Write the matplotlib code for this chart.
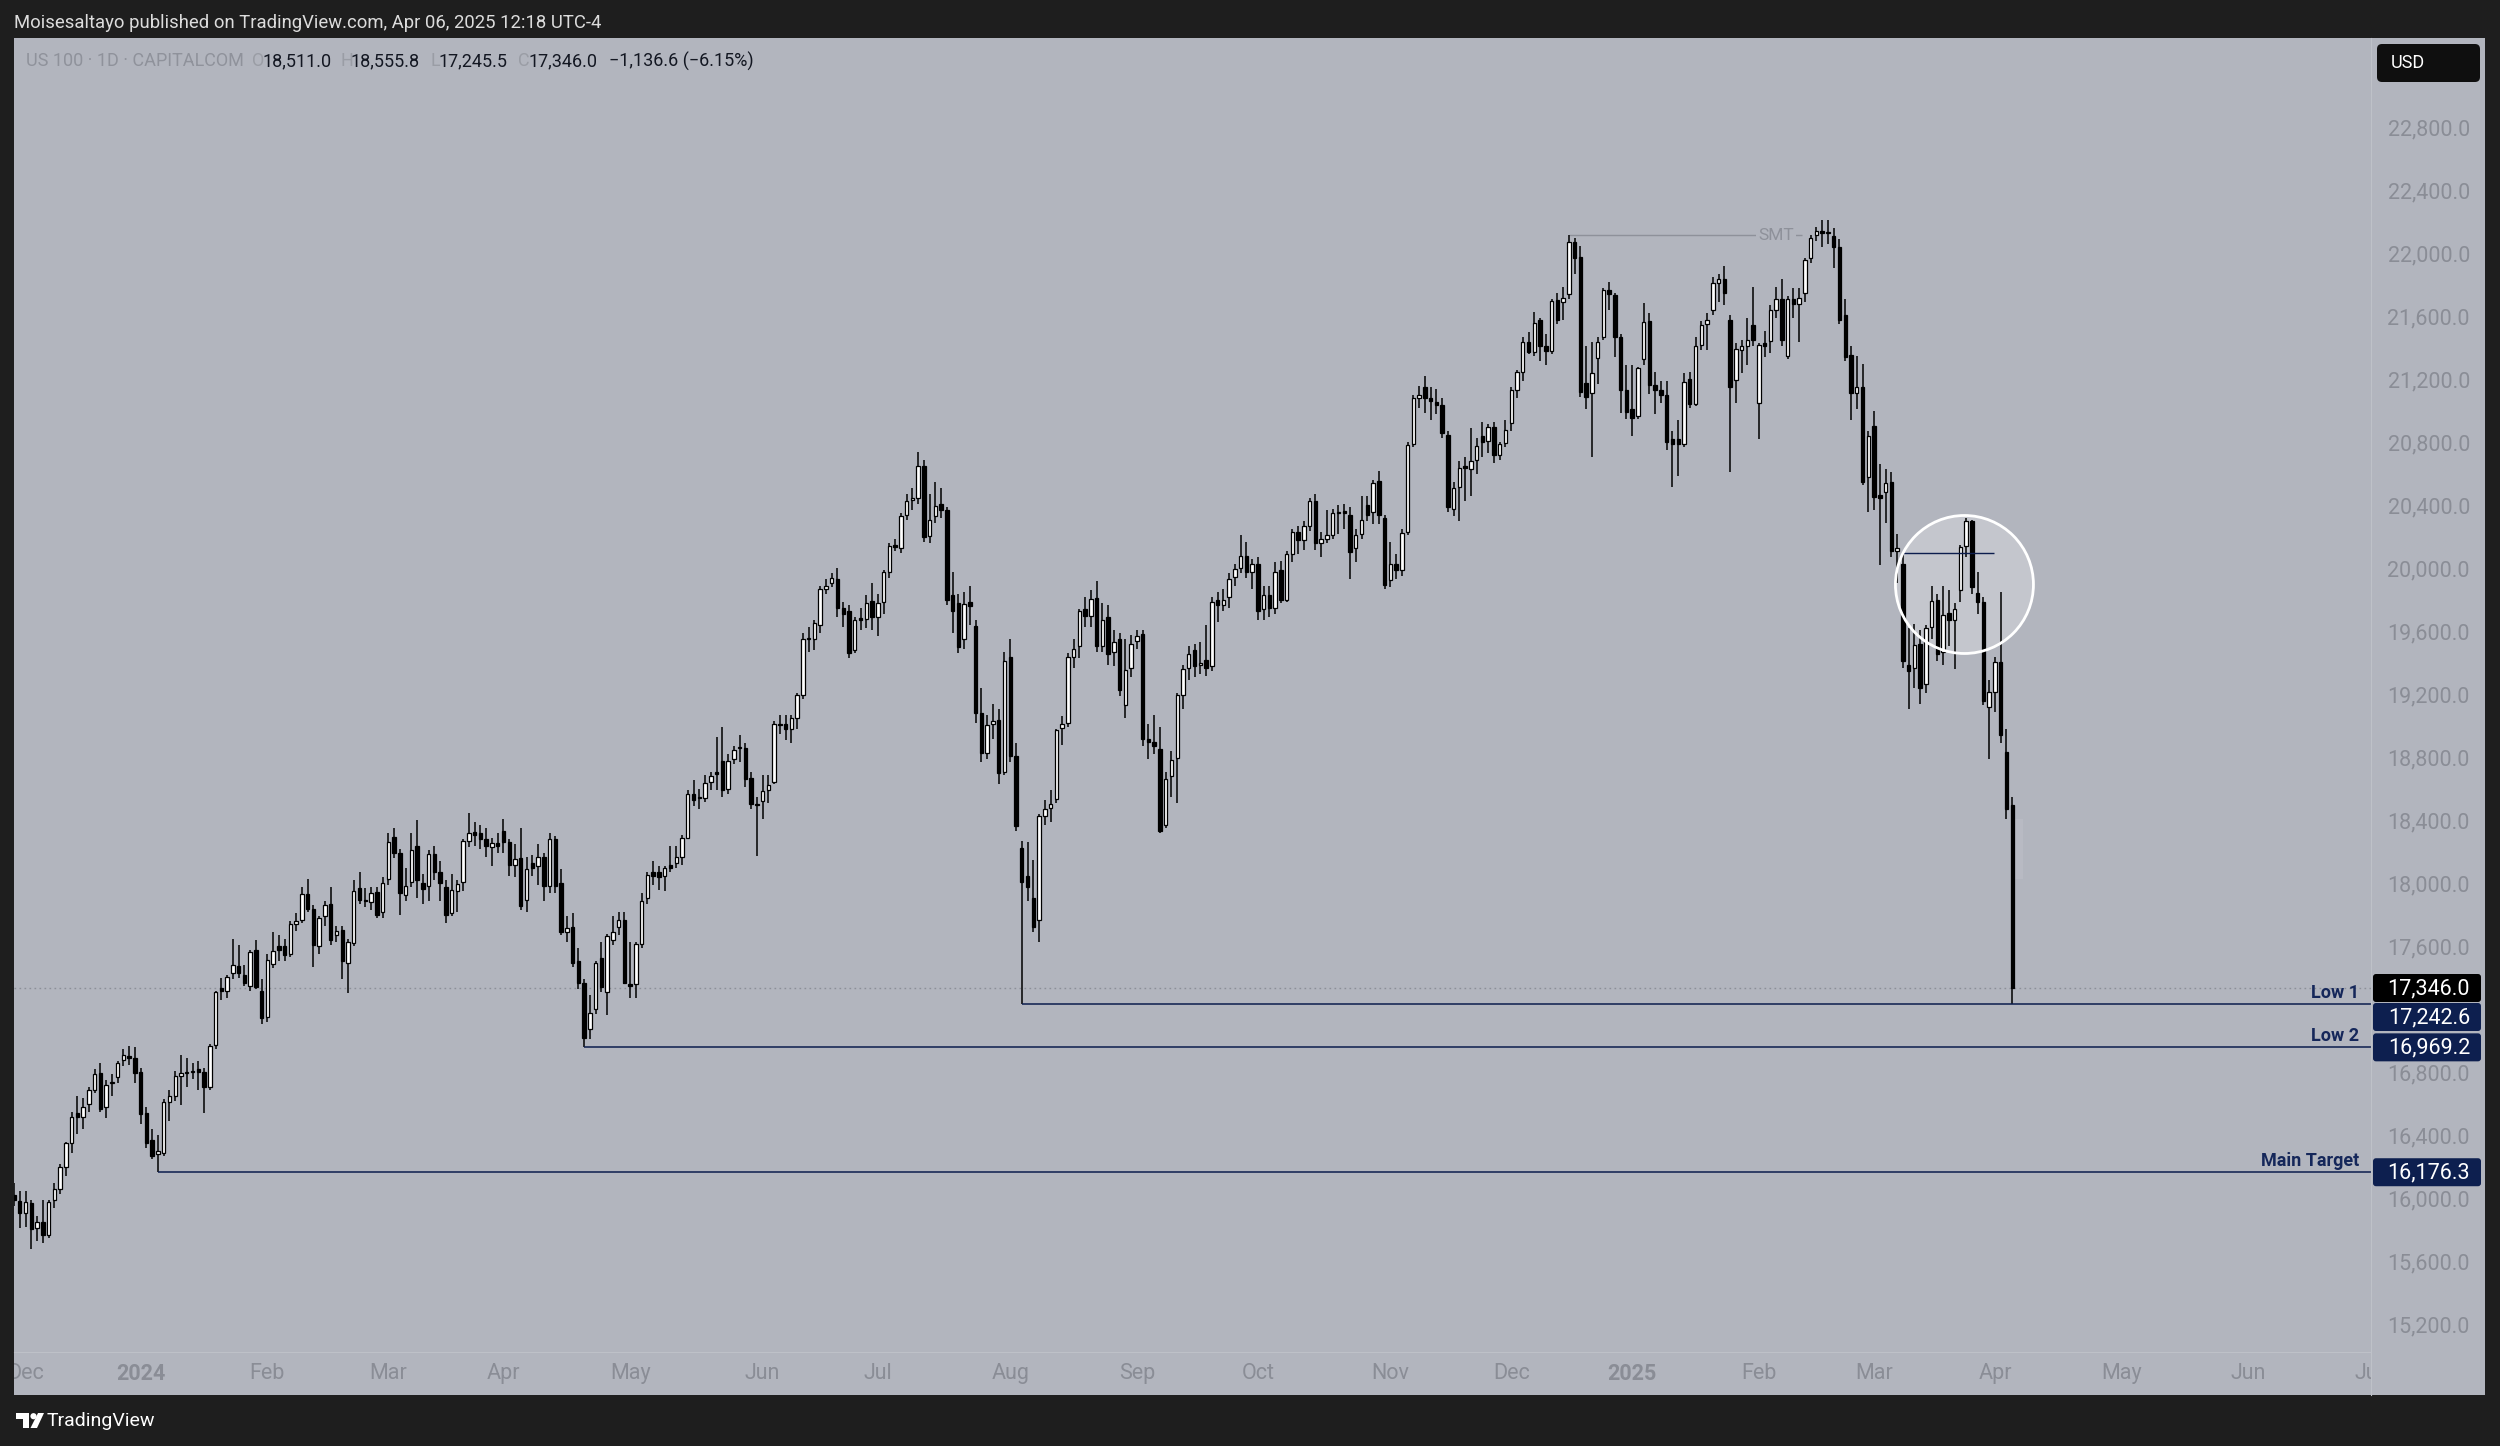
import numpy as np
import pandas as pd
import matplotlib
matplotlib.use("Agg")
import matplotlib.pyplot as plt
from matplotlib.patches import Rectangle, FancyBboxPatch, Ellipse, Polygon, Circle

plt.rcParams['font.family'] = ['Roboto', 'DejaVu Sans']

# ---------------- daily candles: (open, high, low, close) ----------------
nov_2023 = [(16030, 16110, 15960, 16000), (15995, 16060, 15820, 15920)]
dec_2023 = [(15920, 16060, 15830, 15985), (15980, 16000, 15690, 15815), (15820, 15900, 15740, 15860),
            (15860, 16000, 15730, 15780), (15775, 16000, 15760, 15985), (16000, 16110, 15950, 16070),
            (16070, 16230, 16040, 16210), (16210, 16370, 16150, 16360), (16360, 16560, 16300, 16530),
            (16550, 16660, 16420, 16530), (16530, 16650, 16450, 16590), (16610, 16720, 16560, 16700),
            (16700, 16830, 16680, 16800), (16805, 16870, 16560, 16575), (16590, 16760, 16520, 16730),
            (16740, 16800, 16660, 16750), (16780, 16880, 16740, 16870), (16890, 16960, 16850, 16920),
            (16915, 16980, 16860, 16900), (16900, 16970, 16740, 16805)]
jan_2024 = [(16815, 16840, 16480, 16545), (16550, 16590, 16330, 16360), (16380, 16450, 16260, 16280),
            (16290, 16410, 16176.3, 16310), (16300, 16640, 16280, 16620), (16620, 16700, 16500, 16660),
            (16660, 16820, 16630, 16790), (16790, 16920, 16600, 16805), (16805, 16900, 16720, 16815),
            (16815, 16870, 16770, 16820), (16830, 16880, 16700, 16815), (16815, 16840, 16550, 16720),
            (16720, 16990, 16700, 16975), (16985, 17330, 16960, 17320), (17345, 17410, 17270, 17325),
            (17325, 17430, 17280, 17415), (17440, 17660, 17400, 17490), (17485, 17620, 17410, 17440),
            (17430, 17490, 17360, 17380), (17360, 17590, 17330, 17575), (17590, 17650, 17340, 17355),
            (17330, 17400, 17118, 17155)]
feb_2024 = [(17165, 17560, 17130, 17525), (17500, 17700, 17470, 17580), (17615, 17680, 17520, 17590),
            (17610, 17660, 17520, 17555), (17565, 17770, 17540, 17750), (17755, 17820, 17710, 17770),
            (17780, 17990, 17760, 17940), (17940, 18040, 17830, 17845), (17845, 17870, 17480, 17620),
            (17610, 17800, 17560, 17790), (17800, 17900, 17740, 17870), (17880, 17990, 17620, 17650),
            (17680, 17740, 17640, 17710), (17715, 17740, 17400, 17515), (17505, 17660, 17313, 17635),
            (17630, 18030, 17610, 17960), (17980, 18085, 17880, 17905), (17905, 17980, 17860, 17900),
            (17895, 17990, 17840, 17950), (17955, 17990, 17790, 17810), (17830, 18050, 17790, 18015)]
mar_2024 = [(18035, 18330, 18000, 18270), (18305, 18360, 18170, 18200), (18205, 18230, 17810, 17950),
            (17935, 18110, 17900, 17995), (18020, 18330, 17990, 18220), (18250, 18410, 17920, 18030),
            (18010, 18070, 17880, 17975), (17995, 18220, 17900, 18195), (18195, 18250, 18030, 18085),
            (18080, 18150, 17900, 18010), (17990, 18030, 17757, 17810), (17820, 18070, 17800, 17970),
            (17965, 18030, 17830, 18005), (18020, 18290, 17960, 18280), (18280, 18455, 18240, 18330),
            (18335, 18400, 18250, 18320), (18330, 18380, 18230, 18290), (18290, 18360, 18180, 18245),
            (18240, 18300, 18120, 18265), (18265, 18330, 18200, 18245)]
apr_2024 = [(18345, 18420, 18200, 18275), (18270, 18290, 18060, 18125), (18125, 18260, 18050, 18165),
            (18170, 18360, 17840, 17865), (17905, 18180, 17830, 18100), (18140, 18190, 18060, 18105),
            (18120, 18260, 18000, 18175), (18175, 18200, 17900, 17995), (17995, 18330, 17950, 18290),
            (18290, 18310, 17950, 17995), (18010, 18100, 17680, 17700), (17700, 17800, 17640, 17725),
            (17735, 17820, 17480, 17505), (17515, 17600, 17340, 17375), (17375, 17400, 16969.2, 17030),
            (17085, 17300, 17020, 17190), (17210, 17520, 17180, 17505), (17535, 17640, 17320, 17355),
            (17320, 17690, 17175, 17675), (17650, 17800, 17620, 17700), (17735, 17830, 17680, 17780),
            (17780, 17830, 17370, 17375)]
may_2024 = [(17370, 17640, 17280, 17360), (17370, 17640, 17280, 17625), (17625, 17950, 17600, 17900),
            (17920, 18080, 17880, 18065), (18080, 18150, 18000, 18055), (18080, 18120, 17970, 18050),
            (18055, 18120, 17960, 18105), (18130, 18250, 18080, 18110), (18140, 18250, 18110, 18175),
            (18180, 18320, 18130, 18300), (18300, 18600, 18290, 18580), (18580, 18667, 18500, 18540),
            (18560, 18610, 18480, 18550), (18550, 18700, 18530, 18645), (18657, 18720, 18600, 18695),
            (18720, 18940, 18600, 18705), (18785, 19000, 18560, 18605), (18610, 18830, 18580, 18790),
            (18800, 18880, 18770, 18855), (18870, 18950, 18780, 18875), (18870, 18900, 18620, 18670),
            (18680, 18720, 18480, 18515), (18515, 18560, 18185, 18510)]
jun_2024 = [(18535, 18700, 18420, 18595), (18605, 18700, 18520, 18635), (18655, 19040, 18640, 19025),
            (19025, 19080, 18960, 19015), (19020, 19080, 18920, 18990), (18990, 19080, 18900, 19060),
            (19060, 19220, 18990, 19205), (19205, 19600, 19180, 19560), (19560, 19640, 19480, 19570),
            (19565, 19680, 19490, 19665), (19650, 19900, 19600, 19880), (19880, 19940, 19850, 19900),
            (19915, 19980, 19890, 19950), (19945, 20010, 19700, 19760), (19760, 19800, 19640, 19720),
            (19740, 19780, 19440, 19475), (19495, 19700, 19470, 19685), (19695, 19760, 19620, 19680),
            (19690, 19840, 19630, 19790), (19805, 19920, 19620, 19700)]
jul_2024 = [(19700, 19850, 19580, 19790), (19800, 20000, 19720, 19985), (19990, 20170, 19950, 20155),
            (20160, 20200, 20120, 20145), (20140, 20360, 20110, 20340), (20350, 20480, 20320, 20440),
            (20445, 20520, 20380, 20455), (20455, 20748, 20420, 20660), (20660, 20700, 20180, 20210),
            (20215, 20480, 20170, 20320), (20340, 20560, 20300, 20405), (20420, 20520, 20330, 20380),
            (20380, 20400, 19780, 19810), (19840, 19990, 19600, 19740), (19790, 19850, 19470, 19510),
            (19560, 19860, 19500, 19785), (19800, 19900, 19650, 19770), (19645, 19680, 19030, 19090),
            (19090, 19250, 18780, 18835), (18835, 19080, 18800, 19015), (19020, 19150, 18930, 19040),
            (19050, 19120, 18640, 18710), (18720, 19480, 18700, 19425)]
aug_2024 = [(19445, 19560, 18780, 18820), (18820, 18900, 18340, 18375), (18235, 18280, 17242.6, 18020),
            (18055, 18270, 17900, 17990), (17915, 18160, 17700, 17735), (17780, 18450, 17640, 18435),
            (18435, 18540, 18380, 18480), (18490, 18600, 18400, 18515), (18545, 18990, 18520, 18985),
            (18995, 19070, 18890, 19025), (19030, 19470, 19000, 19450), (19450, 19560, 19380, 19500),
            (19520, 19750, 19440, 19740), (19755, 19830, 19640, 19705), (19705, 19870, 19640, 19815),
            (19820, 19930, 19480, 19515), (19520, 19790, 19480, 19680), (19700, 19780, 19400, 19465),
            (19480, 19620, 19390, 19545), (19560, 19600, 19200, 19235), (19145, 19560, 19060, 19365),
            (19380, 19590, 19320, 19530)]
sep_2024 = [(19550, 19620, 19500, 19580), (19595, 19620, 18880, 18930), (18930, 19020, 18800, 18910),
            (18910, 19080, 18830, 18880), (18865, 19000, 18330, 18340), (18380, 18720, 18360, 18675),
            (18690, 18850, 18560, 18795), (18805, 19220, 18518, 19205), (19205, 19400, 19120, 19370),
            (19380, 19520, 19300, 19465), (19490, 19530, 19320, 19390), (19395, 19540, 19340, 19410),
            (19430, 19650, 19330, 19380), (19390, 19830, 19360, 19800), (19810, 19860, 19670, 19775),
            (19780, 19880, 19740, 19810), (19830, 19980, 19760, 19945), (19955, 20040, 19900, 20005),
            (20010, 20220, 19980, 20090), (20090, 20180, 19950, 19990), (19990, 20070, 19880, 20040)]
oct_2024 = [(20040, 20080, 19680, 19740), (19750, 19900, 19680, 19840), (19840, 19900, 19700, 19760),
            (19760, 20050, 19720, 19985), (20000, 20060, 19790, 19810), (19810, 20120, 19800, 20100),
            (20100, 20260, 20050, 20240), (20240, 20280, 20100, 20190), (20190, 20310, 20130, 20280),
            (20280, 20460, 20250, 20440), (20440, 20480, 20130, 20170), (20170, 20240, 20080, 20200),
            (20200, 20380, 20170, 20220), (20220, 20390, 20200, 20360), (20360, 20410, 20230, 20370),
            (20375, 20420, 20260, 20360), (20350, 20400, 19940, 20115), (20140, 20260, 20050, 20220),
            (20230, 20470, 20200, 20320), (20410, 20470, 20310, 20350), (20370, 20570, 20290, 20555),
            (20565, 20630, 20290, 20350), (20330, 20350, 19880, 19905)]
nov_2024 = [(19935, 20180, 19890, 20040), (20040, 20100, 19940, 20000), (20000, 20260, 19960, 20235),
            (20240, 20810, 20220, 20795), (20800, 21110, 20780, 21095), (21095, 21170, 21030, 21110),
            (21160, 21230, 21000, 21090), (21095, 21160, 20950, 21070), (21065, 21150, 20990, 21045),
            (21050, 21090, 20840, 20870), (20855, 20880, 20370, 20400), (20385, 20560, 20340, 20520),
            (20530, 20690, 20310, 20645), (20660, 20720, 20440, 20650), (20640, 20900, 20470, 20690),
            (20700, 20840, 20610, 20785), (20850, 20940, 20720, 20815), (20820, 20930, 20740, 20910),
            (20910, 20940, 20680, 20730), (20730, 20810, 20700, 20800), (20805, 20950, 20780, 20890)]
dec_2024 = [(20935, 21160, 20880, 21140), (21145, 21270, 21090, 21255), (21260, 21480, 21200, 21450),
            (21450, 21510, 21370, 21385), (21385, 21640, 21360, 21570), (21585, 21600, 21330, 21420),
            (21420, 21500, 21300, 21390), (21390, 21720, 21370, 21705), (21715, 21760, 21560, 21585),
            (21700, 21800, 21590, 21725), (21750, 22125, 21720, 22080), (22085, 22110, 21880, 21980),
            (21985, 22060, 21100, 21130), (21185, 21420, 21020, 21100), (21125, 21450, 20720, 21250),
            (21345, 21480, 21180, 21450), (21480, 21790, 21460, 21780), (21780, 21830, 21650, 21750),
            (21745, 21760, 21350, 21480), (21480, 21500, 21000, 21145), (21145, 21300, 20960, 21005)]
jan_2025 = [(21025, 21300, 20850, 20965), (20975, 21290, 20960, 21280), (21340, 21693, 21300, 21575),
            (21580, 21630, 21120, 21175), (21175, 21260, 20990, 21140), (21140, 21200, 21060, 21110),
            (21110, 21200, 20760, 20815), (20830, 20880, 20529, 20800), (20830, 20950, 20600, 20800),
            (20800, 21250, 20780, 21195), (21215, 21260, 21030, 21055), (21055, 21480, 21040, 21420),
            (21430, 21580, 21400, 21555), (21560, 21630, 21400, 21590), (21650, 21860, 21620, 21820),
            (21820, 21880, 21700, 21850), (21850, 21930, 21680, 21760), (21590, 21620, 20624, 21160),
            (21205, 21440, 21060, 21405), (21400, 21460, 21250, 21420), (21420, 21600, 21300, 21460),
            (21555, 21800, 21420, 21460)]
feb_2025 = [(21060, 21440, 20830, 21430), (21440, 21520, 21350, 21420), (21455, 21680, 21380, 21650),
            (21650, 21800, 21600, 21720), (21720, 21850, 21420, 21460), (21360, 21740, 21340, 21720),
            (21720, 21790, 21600, 21690), (21690, 21790, 21450, 21730), (21760, 21980, 21700, 21970),
            (21980, 22130, 21950, 22105), (22125, 22180, 22090, 22155), (22155, 22220, 22050, 22140),
            (22140, 22222, 22070, 22145), (22120, 22170, 21920, 22050), (22050, 22100, 21560, 21585),
            (21620, 21720, 21330, 21355), (21365, 21420, 20950, 21125), (21125, 21360, 21020, 21160),
            (21160, 21310, 20540, 20560), (20590, 20880, 20370, 20850)]
mar_2025 = [(20915, 21010, 20380, 20465), (20475, 20675, 20030, 20460), (20495, 20640, 20300, 20550),
            (20560, 20620, 20080, 20120), (20120, 20230, 19920, 20140), (20040, 20107, 19380, 19425),
            (19400, 19630, 19120, 19360), (19380, 19660, 19250, 19525), (19530, 19620, 19150, 19250),
            (19275, 19650, 19220, 19630), (19635, 19900, 19560, 19805), (19810, 19850, 19420, 19465),
            (19480, 19900, 19400, 19715), (19730, 19870, 19520, 19680), (19680, 19790, 19370, 19755),
            (19870, 20160, 19800, 20145), (20155, 20330, 20080, 20310), (20310, 20320, 19850, 19890),
            (19855, 19990, 19720, 19800), (19795, 19830, 19140, 19170), (19130, 19300, 18800, 19225)]
apr_2025 = [(19225, 19450, 19100, 19415), (19415, 19863, 18900, 18950), (18845, 18990, 18420, 18482.6),
            (18511.0, 18555.8, 17245.5, 17346.0)]

month_blocks = [("2023-11", nov_2023), ("2023-12", dec_2023), ("2024-01", jan_2024), ("2024-02", feb_2024),
                ("2024-03", mar_2024), ("2024-04", apr_2024), ("2024-05", may_2024), ("2024-06", jun_2024),
                ("2024-07", jul_2024), ("2024-08", aug_2024), ("2024-09", sep_2024), ("2024-10", oct_2024),
                ("2024-11", nov_2024), ("2024-12", dec_2024), ("2025-01", jan_2025), ("2025-02", feb_2025),
                ("2025-03", mar_2025), ("2025-04", apr_2025)]

# key levels
low_1 = 17242.6
low_2 = 16969.2
main_target = 16176.3
last_close = 17346.0
smt_level = 22125.0
range_high = 20105.0
price_ticks = list(range(15200, 23201, 400))

# ---------------- trading calendar ----------------
closed_days = pd.to_datetime(["2023-12-25", "2024-01-01", "2024-03-29", "2024-12-25", "2025-01-01"])
all_days = pd.bdate_range("2023-11-29", "2025-07-04")
all_days = all_days[~all_days.isin(closed_days)]
last_day = pd.Timestamp("2025-04-04")
rows = []
for ym, block in month_blocks:
    n_exp = int(((all_days.strftime("%Y-%m") == ym) & (all_days <= last_day)).sum())
    assert n_exp == len(block), (ym, n_exp, len(block))
    rows.extend(block)
ohlc = np.array(rows, dtype=float)
o, h, l, c = ohlc.T
x = np.arange(len(rows))
day_index = {d: i for i, d in enumerate(all_days)}

def idx(date):
    return day_index[pd.Timestamp(date)]

# ---------------- figure layout ----------------
W, H = 2500, 1446
BG = '#b2b5be'
DARK = '#1e1e1e'
NAVY = '#0c1d4d'
GRAY = '#8a8d96'
fig = plt.figure(figsize=(W / 100, H / 100), dpi=100, facecolor=DARK)

L_, R_, T_, B_ = 14, 2371, 38, 1352
fig.patches.append(Rectangle((L_ / W, 1 - 1395 / H), (2485 - L_) / W, (1395 - T_) / H,
                             transform=fig.transFigure, facecolor=BG, edgecolor='none', zorder=-5))
ax = fig.add_axes([L_ / W, 1 - B_ / H, (R_ - L_) / W, (B_ - T_) / H])
ax.set_facecolor(BG)
for s in ax.spines.values():
    s.set_visible(False)
ax.set_xticks([])
ax.set_yticks([])
ax.set_xlim(0, 409.3)
ax.set_ylim(15034.9, 23377.8)

# candles
up = c >= o
body_lo = np.minimum(o, c)
body_h = np.maximum(np.abs(c - o), 6)
ax.vlines(x, l, h, color='black', linewidth=1.1, zorder=3)
ax.bar(x[up], body_h[up], bottom=body_lo[up], width=0.6, color='white', edgecolor='black',
       linewidth=0.9, zorder=4)
ax.bar(x[~up], body_h[~up], bottom=body_lo[~up], width=0.6, color='black', edgecolor='black',
       linewidth=0.9, zorder=4)

# current price dotted line
ax.axhline(last_close, color='#8c8f98', linewidth=1.0, linestyle=(0, (1.2, 2.4)), zorder=2)

# key level lines
x_end = ax.get_xlim()[1]
for lvl, d0 in [(low_1, "2024-08-05"), (low_2, "2024-04-19"), (main_target, "2024-01-05")]:
    ax.hlines(lvl, idx(d0), x_end, color=NAVY, linewidth=1.1, zorder=5)

# SMT line
ax.hlines(smt_level, idx("2024-12-16"), idx("2025-02-12") + 0.5, color='#8e919a', linewidth=1.0, zorder=2)
ax.text(idx("2025-02-06"), smt_level, "SMT", color='#8e919a', fontsize=12.5, ha='center', va='center',
        zorder=3, bbox=dict(facecolor=BG, edgecolor='none', pad=1.5))

# range line inside circle
ax.hlines(range_high, idx("2025-03-10"), idx("2025-03-31") + 0.8, color=NAVY, linewidth=1.0, zorder=5)

# circle highlight
sx = ax.transData.transform((1, 0))[0] - ax.transData.transform((0, 0))[0]
sy = (ax.transData.transform((0, 1000))[1] - ax.transData.transform((0, 0))[1]) / 1000
r_px = 69
cx, cy = idx("2025-03-25") - 0.3, 19908
ax.add_patch(Ellipse((cx, cy), 2 * r_px / sx, 2 * r_px / sy, facecolor=(1, 1, 1, 0.24),
                     edgecolor='none', zorder=2))
ax.add_patch(Ellipse((cx, cy), 2 * r_px / sx, 2 * r_px / sy, facecolor='none',
                     edgecolor='white', linewidth=2.0, zorder=6))

# faint box right of the last candle
ax.add_patch(Rectangle((len(rows) - 0.45, 18040), 1.4, 380, facecolor=(1, 1, 1, 0.08), edgecolor='none', zorder=2))

# ---------------- overlay in pixel coordinates ----------------
ov = fig.add_axes([0, 0, 1, 1], zorder=10)
ov.set_xlim(0, W)
ov.set_ylim(H, 0)
ov.set_axis_off()

def py(price):
    return H - ax.transData.transform((0, price))[1]

# separators
ov.plot([R_, R_], [T_, 1395], color='#bec1c8', linewidth=0.8)
ov.plot([L_, R_], [B_, B_], color='#bec1c8', linewidth=0.8)

# header text
ov.text(14, 22.5, "Moisesaltayo published on TradingView.com, Apr 06, 2025 12:18 UTC-4",
        color='#dcdcdc', fontsize=13.3, ha='left', va='center')

# legend
leg_y = 61
ov.text(26, leg_y, "US 100 · 1D · CAPITALCOM", color='#8f929b', fontsize=13, ha='left', va='center')
for lab, xl, val, xv in [("O", 252, "18,511.0", 262), ("H", 340, "18,555.8", 350),
                         ("L", 430, "17,245.5", 439), ("C", 518, "17,346.0", 529)]:
    ov.text(xl, leg_y, lab, color='#9a9da5', fontsize=13, ha='left', va='center')
    ov.text(xv, leg_y, val, color='#131722', fontsize=13, ha='left', va='center')
ov.text(609, leg_y, "\u22121,136.6 (\u22126.15%)", color='#131722', fontsize=13, ha='left', va='center')

# USD box
ov.add_patch(FancyBboxPatch((2377, 44), 103, 38, boxstyle="round,pad=0,rounding_size=5",
                            facecolor='#0f0f0f', edgecolor='none'))
ov.text(2391, 63.5, "USD", color='white', fontsize=13, ha='left', va='center')

# price labels boxes (stacked)
boxes = [(last_close, '#000000'), (low_1, '#0d1f4f'), (low_2, '#0d1f4f'), (main_target, '#0d1f4f')]
box_h = 28
placed = []
prev = None
for p, col in sorted(boxes, key=lambda t: -t[0]):
    yc = py(p)
    if prev is not None and yc - prev < box_h + 1:
        yc = prev + box_h + 1
    prev = yc
    placed.append((p, col, yc))
for p, col, yc in placed:
    ov.add_patch(FancyBboxPatch((2373, yc - box_h / 2), 108, box_h, boxstyle="round,pad=0,rounding_size=3",
                                facecolor=col, edgecolor='none'))
    ov.text(2470, yc + 1, f"{p:,.1f}", color='white', fontsize=15.5, ha='right', va='center')

# price ticks
for t in price_ticks:
    yt = py(t)
    if yt < T_ + 60 or yt > B_ - 10:
        continue
    if any(abs(yt - yc) < box_h / 2 + 8 for _, _, yc in placed):
        continue
    ov.text(2470, yt + 1, f"{t:,.1f}", color=GRAY, fontsize=15.5, ha='right', va='center')

# level labels
for lvl, txt in [(low_1, "Low 1"), (low_2, "Low 2"), (main_target, "Main Target")]:
    ov.text(2359, py(lvl) - 6, txt, color='#15275a', fontsize=13, fontweight='bold', ha='right', va='baseline')

# time axis labels (clipped to axis area)
tax = fig.add_axes([L_ / W, 1 - 1395 / H, (R_ - L_) / W, (1395 - B_) / H], zorder=9)
tax.set_xlim(ax.get_xlim())
tax.set_ylim(0, 1)
tax.patch.set_alpha(0)
for s in tax.spines.values():
    s.set_visible(False)
tax.set_xticks([])
tax.set_yticks([])
prev_key = None
for i, d in enumerate(all_days):
    key = (d.year, d.month)
    if key != prev_key:
        prev_key = key
        if i == 0:
            continue
        if d.month == 1:
            tax.text(i, 0.5, str(d.year), color=GRAY, fontsize=15.5, fontweight='bold',
                     ha='center', va='center', clip_on=True)
        else:
            tax.text(i, 0.5, d.strftime('%b'), color=GRAY, fontsize=15.5,
                     ha='center', va='center', clip_on=True)

# footer logo + text
ov.add_patch(Polygon([(16, 1413), (29, 1413), (29, 1428), (23, 1428), (23, 1419), (16, 1419)],
                     closed=True, facecolor='white', edgecolor='none'))
ov.add_patch(Circle((33.5, 1416.2), 3.1, facecolor='white', edgecolor='none'))
ov.add_patch(Polygon([(38, 1413), (44, 1413), (37, 1428), (30.5, 1428)],
                     closed=True, facecolor='white', edgecolor='none'))
ov.text(47, 1421, "TradingView", color='white', fontsize=14, ha='left', va='center')

fig.savefig("out.png", dpi=100, facecolor=DARK)
